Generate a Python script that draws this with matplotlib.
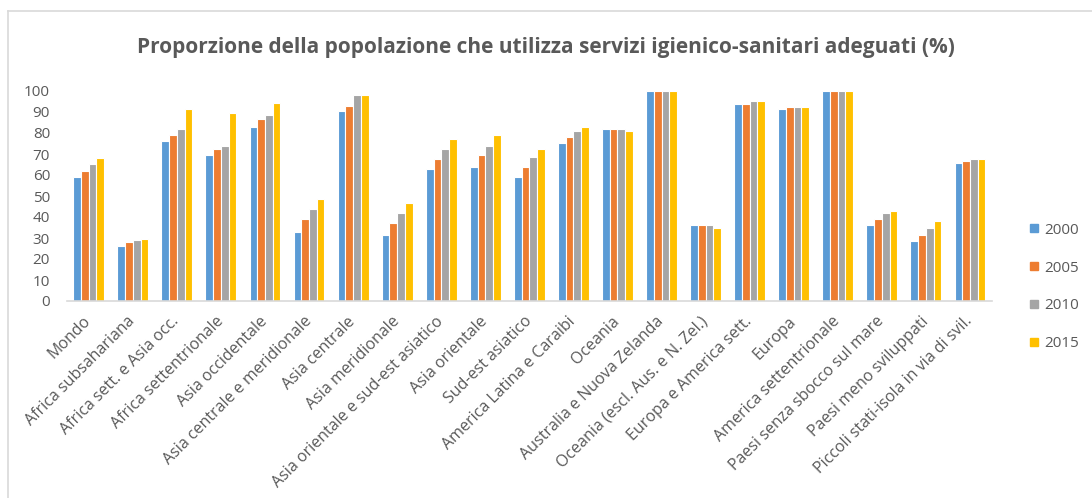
import numpy as np
import matplotlib
matplotlib.use("Agg")
from matplotlib import pyplot as plt
from matplotlib.lines import Line2D

plt.rcParams['font.family'] = ['Open Sans', 'DejaVu Sans']

categories = [
    "Mondo", "Africa subsahariana", "Africa sett. e Asia occ.",
    "Africa settentrionale", "Asia occidentale", "Asia centrale e meridionale",
    "Asia centrale", "Asia meridionale", "Asia orientale e sud-est asiatico",
    "Asia orientale", "Sud-est asiatico", "America Latina e Caraibi",
    "Oceania", "Australia e Nuova Zelanda", "Oceania (escl. Aus. e N. Zel.)",
    "Europa e America sett.", "Europa", "America settentrionale",
    "Paesi senza sbocco sul mare", "Paesi meno sviluppati",
    "Piccoli stati-isola in via di svil.",
]
years = ["2000", "2005", "2010", "2015"]
v2000 = [59, 26, 76, 69.5, 83, 33, 90.5, 31.5, 63, 64, 59, 75, 82, 100, 36, 94, 91.5, 100, 36, 28.5, 65.5]
v2005 = [62, 28, 79, 72.5, 86.5, 39, 93, 37, 67.5, 69.5, 64, 78, 82, 100, 36, 94, 92.5, 100, 39, 31.5, 66.5]
v2010 = [65, 29, 82, 74, 88.5, 44, 98, 42, 72.5, 74, 68.5, 81, 82, 100, 36, 95, 92.5, 100, 42, 35, 67.5]
v2015 = [68, 29.5, 91.5, 89.5, 94.5, 48.5, 98, 46.5, 77, 79, 72.5, 83, 81, 100, 35, 95, 92.5, 100, 43, 38, 67.5]
series = [v2000, v2005, v2010, v2015]
colors = ["#5B9BD5", "#ED7D31", "#A5A5A5", "#FFC000"]

fig = plt.figure(figsize=(10.92, 4.98), dpi=100)
ax = fig.add_axes([66.7 / 1092, 1 - 301 / 498, (992 - 66.7) / 1092, 210 / 498])

x = np.arange(len(categories))
w = 0.175
for i, (vals, c) in enumerate(zip(series, colors)):
    ax.bar(x + (i - 1.5) * w, vals, w, color=c, edgecolor="white", linewidth=0.8, label=years[i])

ax.set_xlim(-0.5, len(categories) - 0.5)
ax.set_ylim(0, 100)
ax.set_yticks(range(0, 101, 10))
ax.set_xticks(x)
ax.set_xticklabels(categories, rotation=45, ha="right", va="center", rotation_mode="anchor")
ax.tick_params(axis="x", length=0, pad=13, labelsize=11.5, labelcolor="#595959")
ax.tick_params(axis="y", length=0, pad=12, labelsize=11, labelcolor="#595959")
for s in ["top", "right", "left"]:
    ax.spines[s].set_visible(False)
ax.spines["bottom"].set_color("#D9D9D9")
ax.spines["bottom"].set_linewidth(1.2)

fig.text(0.5, 1 - 47 / 498, "Proporzione della popolazione che utilizza servizi igienico-sanitari adeguati (%)",
         ha="center", va="center", fontsize=15, fontweight="bold", color="#595959")

handles = [Line2D([0], [0], marker="s", linestyle="none", markersize=6, color=c) for c in colors]
fig.legend(handles, years, loc="center left", bbox_to_anchor=(1026 / 1092, 1 - 287 / 498),
           frameon=False, fontsize=11, labelcolor="#595959", handletextpad=0.2,
           labelspacing=1.5, handlelength=1.0, borderpad=0, borderaxespad=0)

# outer chart border
fig.add_artist(Line2D([8 / 1092, 1], [1 - 11 / 498, 1 - 11 / 498], color="#D9D9D9", lw=1.2))
fig.add_artist(Line2D([8 / 1092, 8 / 1092], [0, 1 - 11 / 498], color="#D9D9D9", lw=1.2))

fig.savefig("out.png", dpi=100)
